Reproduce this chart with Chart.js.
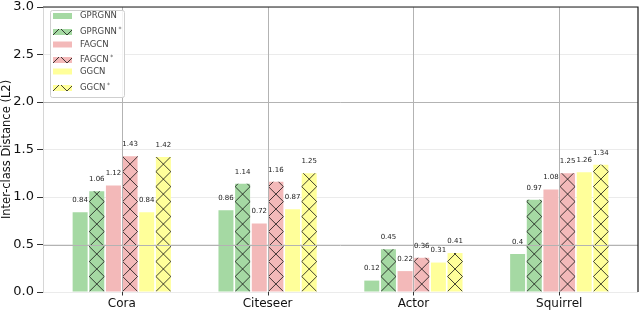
<!DOCTYPE html>
<html>
<head>
<meta charset="utf-8">
<script src="https://cdn.jsdelivr.net/npm/chart.js@4.4.1/dist/chart.umd.min.js"></script>
<style>
  html, body { margin: 0; padding: 0; background: #ffffff; }
  #wrap { width: 640px; height: 310px; }
</style>
</head>
<body>
<div id="wrap"><canvas id="c" width="640" height="310"></canvas></div>
<script>
// ---- data ----
const categories = ['Cora', 'Citeseer', 'Actor', 'Squirrel'];
const seriesNames = ['GPRGNN', 'GPRGNN*', 'FAGCN', 'FAGCN*', 'GGCN', 'GGCN*'];
const gprgnn     = [0.84, 0.86, 0.12, 0.4];
const gprgnnStar = [1.06, 1.14, 0.45, 0.97];
const fagcn      = [1.12, 0.72, 0.22, 1.08];
const fagcnStar  = [1.43, 1.16, 0.36, 1.25];
const ggcn       = [0.84, 0.87, 0.31, 1.26];
const ggcnStar   = [1.42, 1.25, 0.41, 1.34];
const yTicks = [0.0, 0.5, 1.0, 1.5, 2.0, 2.5, 3.0];
const yTitle = 'Inter-class Distance (L2)';

// ---- styles ----
const FONT = "'DejaVu Sans', sans-serif";
const colors = ['#a5d9a3', '#a5d9a3', '#f3b9b9', '#f3b9b9', '#ffff9a', '#ffff9a'];
const hatched = [false, true, false, true, false, true];
const seriesValues = [gprgnn, gprgnnStar, fagcn, fagcnStar, ggcn, ggcnStar];

function drawHatch(ctx, left, top, right, bottom, period) {
  const h = bottom - top;
  ctx.save();
  ctx.beginPath();
  ctx.rect(left, top, right - left, bottom - top);
  ctx.clip();
  ctx.strokeStyle = '#111';
  ctx.lineWidth = 0.8;
  ctx.beginPath();
  const n = Math.ceil(h / period) + 2;
  for (let k = -n; k <= n + 2; k++) {
    const sx = left + k * period;
    ctx.moveTo(sx, bottom); ctx.lineTo(sx + h + period, bottom - h - period);
    ctx.moveTo(sx, bottom); ctx.lineTo(sx - h - period, bottom - h - period);
  }
  ctx.stroke();
  ctx.restore();
}

const overlayPlugin = {
  id: 'overlay',
  afterDatasetsDraw(chart) {
    const ctx = chart.ctx;
    const ca = chart.chartArea;
    const xs = chart.scales.x, ys = chart.scales.y;
    // hatching
    chart.data.datasets.forEach((ds, i) => {
      if (!hatched[i]) return;
      const meta = chart.getDatasetMeta(i);
      meta.data.forEach(bar => {
        const p = bar.getProps(['x', 'y', 'base', 'width'], true);
        const l = p.x - p.width / 2, r = p.x + p.width / 2;
        drawHatch(ctx, l, p.y, r, p.base, p.width);
      });
    });
    // darker reference lines
    ctx.save();
    ctx.strokeStyle = '#b3b3b3';
    ctx.lineWidth = 1;
    ctx.beginPath();
    [0.5, 2.0].forEach(v => {
      const y = Math.round(ys.getPixelForValue(v)) + 0.5;
      ctx.moveTo(ca.left, y); ctx.lineTo(ca.right, y);
    });
    categories.forEach((c, i) => {
      const x = Math.round(xs.getPixelForValue(i)) + 0.5;
      ctx.moveTo(x, ca.top); ctx.lineTo(x, ca.bottom);
    });
    ctx.stroke();
    // x tick marks at category centres
    ctx.strokeStyle = '#333';
    ctx.beginPath();
    categories.forEach((c, i) => {
      const x = Math.round(xs.getPixelForValue(i)) + 0.5;
      ctx.moveTo(x, ca.bottom); ctx.lineTo(x, ca.bottom + 3.5);
    });
    ctx.stroke();
    ctx.restore();
    // value labels
    ctx.save();
    ctx.font = '7px ' + FONT;
    ctx.fillStyle = '#222';
    ctx.textAlign = 'center';
    ctx.textBaseline = 'middle';
    chart.data.datasets.forEach((ds, i) => {
      const meta = chart.getDatasetMeta(i);
      meta.data.forEach((bar, j) => {
        ctx.fillText(String(ds.data[j].y), bar.x, bar.y - 12);
      });
    });
    ctx.restore();
    // top/right spines
    ctx.save();
    ctx.strokeStyle = '#1a1a1a';
    ctx.lineWidth = 1.2;
    ctx.beginPath();
    ctx.moveTo(ca.left, ca.top); ctx.lineTo(ca.right, ca.top); ctx.lineTo(ca.right, ca.bottom);
    ctx.stroke();
    ctx.restore();
    // legend
    ctx.save();
    const bx = 50.5, by = 10.5, bw = 74, bh = 87;
    ctx.fillStyle = 'rgba(255,255,255,0.85)';
    ctx.strokeStyle = '#cfcfcf';
    ctx.lineWidth = 1;
    ctx.beginPath();
    ctx.roundRect(bx, by, bw, bh, 2);
    ctx.fill(); ctx.stroke();
    const rowsY = [16, 32, 44.5, 60, 71.5, 88];
    seriesNames.forEach((name, i) => {
      const cy = rowsY[i];
      const pl = 53, pr = 72, pt = cy - 3, pb = cy + 3;
      ctx.fillStyle = colors[i];
      ctx.fillRect(pl, pt, pr - pl, pb - pt);
      if (hatched[i]) drawHatch(ctx, pl, pt, pr, pb, 14);
      ctx.fillStyle = '#444';
      ctx.textAlign = 'left';
      ctx.textBaseline = 'middle';
      const star = name.endsWith('*');
      const base = star ? name.slice(0, -1) : name;
      ctx.font = '8.5px ' + FONT;
      ctx.fillText(base, 80, cy);
      if (star) {
        const w = ctx.measureText(base).width;
        ctx.font = '6px ' + FONT;
        ctx.fillText('*', 80 + w + 1.5, cy - 3);
      }
    });
    ctx.restore();
  }
};

const datasets = seriesNames.map((name, i) => ({
  label: name,
  data: seriesValues[i].map((v, j) => ({ x: j, y: v })),
  backgroundColor: colors[i],
  borderWidth: 0,
  categoryPercentage: 0.685,
  barPercentage: 0.9
}));

new Chart(document.getElementById('c'), {
  type: 'bar',
  data: { datasets },
  options: {
    responsive: false,
    animation: false,
    layout: { padding: { top: 7, right: 2, left: 0, bottom: 0 } },
    plugins: { legend: { display: false }, tooltip: { enabled: false } },
    scales: {
      x: {
        type: 'linear',
        min: -0.54, max: 3.54,
        offset: false,
        afterBuildTicks: s => { s.ticks = categories.map((c, i) => ({ value: i })); },
        grid: { offset: false, drawOnChartArea: false, color: 'rgba(0,0,0,0)', tickColor: 'rgba(0,0,0,0)', tickLength: 4 },
        border: { display: false },
        ticks: { callback: v => categories[v], font: { size: 12, family: FONT }, color: '#111', padding: 1, autoSkip: false, maxRotation: 0 },
        afterFit: s => { s.height = 18; s.paddingLeft = 0; s.paddingRight = 0; }
      },
      y: {
        min: 0, max: 3,
        afterBuildTicks: s => { s.ticks = yTicks.map(v => ({ value: v })); },
        ticks: { callback: v => Number(v).toFixed(1), font: { size: 13, family: FONT }, color: '#111', padding: 3 },
        grid: { color: '#ebebeb', tickColor: '#333', tickLength: 6 },
        border: { color: '#d6d6d6' },
        title: { display: true, text: yTitle, font: { size: 11.5, family: FONT }, color: '#111', padding: 0 },
        afterFit: s => { s.width = 43; s.paddingTop = 0; s.paddingBottom = 0; }
      }
    }
  },
  plugins: [overlayPlugin]
});
</script>
</body>
</html>
